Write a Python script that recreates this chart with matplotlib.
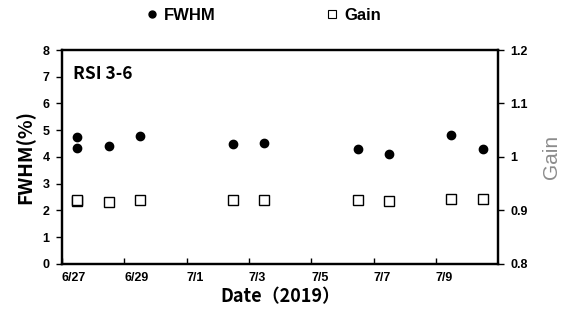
import pandas as pd
import matplotlib.pyplot as plt
from matplotlib.lines import Line2D

# measurement times (taken around noon) and values
dates = ['2019-06-27 12:00', '2019-06-27 12:00', '2019-06-28 12:00', '2019-06-29 12:00',
         '2019-07-02 12:00', '2019-07-03 12:00', '2019-07-06 12:00', '2019-07-07 12:00',
         '2019-07-09 12:00', '2019-07-10 12:00']
fwhm = [4.74, 4.33, 4.42, 4.79, 4.47, 4.52, 4.29, 4.10, 4.82, 4.31]
gain = [0.918, 0.919, 0.916, 0.919, 0.919, 0.919, 0.919, 0.917, 0.921, 0.921]
tick_dates = ['2019-06-27', '2019-06-29', '2019-07-01', '2019-07-03',
              '2019-07-05', '2019-07-07', '2019-07-09']

x = pd.to_datetime(dates)
xt = pd.to_datetime(tick_dates)

fig = plt.figure(figsize=(5.68, 3.27), dpi=100)
ax = fig.add_axes([0.109, 0.193, 0.768, 0.654])
ax2 = ax.twinx()

ax.plot(x, fwhm, 'o', color='black', markersize=6, zorder=3)
ax2.plot(x, gain, 's', markerfacecolor='white', markeredgecolor='black',
         markeredgewidth=1.0, markersize=6.5, zorder=3)

ax.set_xlim(pd.Timestamp('2019-06-27'), pd.Timestamp('2019-07-11'))
ax.set_ylim(0, 8)
ax2.set_ylim(0.8, 1.2)

ax.set_xticks(xt)
ax.set_xticklabels([f'{d.month}/{d.day}' for d in xt], ha='left')
ax.set_yticks(range(0, 9))
ax2.set_yticks([0.8, 0.9, 1.0, 1.1, 1.2])
ax2.set_yticklabels(['0.8', '0.9', '1', '1.1', '1.2'])

tick_font = dict(family='Liberation Sans', weight='bold', size=9)
for lab in ax.get_xticklabels() + ax.get_yticklabels() + ax2.get_yticklabels():
    lab.set_fontproperties(tick_font)
for lab in ax.get_xticklabels():
    lab.set_x(0)

ax.tick_params(axis='x', direction='in', length=4, width=1, pad=6)
ax.tick_params(axis='y', direction='out', length=4, width=1, pad=5)
ax2.tick_params(axis='y', direction='out', length=4, width=1, pad=5)

for a in (ax, ax2):
    for s in a.spines.values():
        s.set_linewidth(1.6)

ax.set_ylabel('FWHM(%)', family='Noto Sans CJK JP', weight='bold', fontsize=14, labelpad=5)
ax2.set_ylabel('Gain', family='Liberation Sans', fontsize=15, color='#8c8c8c', labelpad=10)
ax.set_xlabel('Date（2019）', family=['Noto Sans CJK JP', 'DejaVu Sans'],
              weight='bold', fontsize=13, labelpad=2)

ax.text(0.025, 0.89, 'RSI 3-6', transform=ax.transAxes, family='Noto Sans CJK JP',
        weight='bold', fontsize=12.5, va='center', ha='left')

handles = [
    Line2D([], [], marker='o', linestyle='none', color='black', markersize=5),
    Line2D([], [], marker='s', linestyle='none', markerfacecolor='white',
           markeredgecolor='black', markeredgewidth=0.8, markersize=6),
]
fig.legend(handles, ['FWHM', 'Gain'], loc='center', bbox_to_anchor=(0.462, 0.952),
           ncol=2, frameon=False, handletextpad=0.2, columnspacing=6.5,
           handlelength=1.0,
           prop=dict(family='Liberation Sans', weight='bold', size=12))

plt.savefig('out.png', dpi=100)
